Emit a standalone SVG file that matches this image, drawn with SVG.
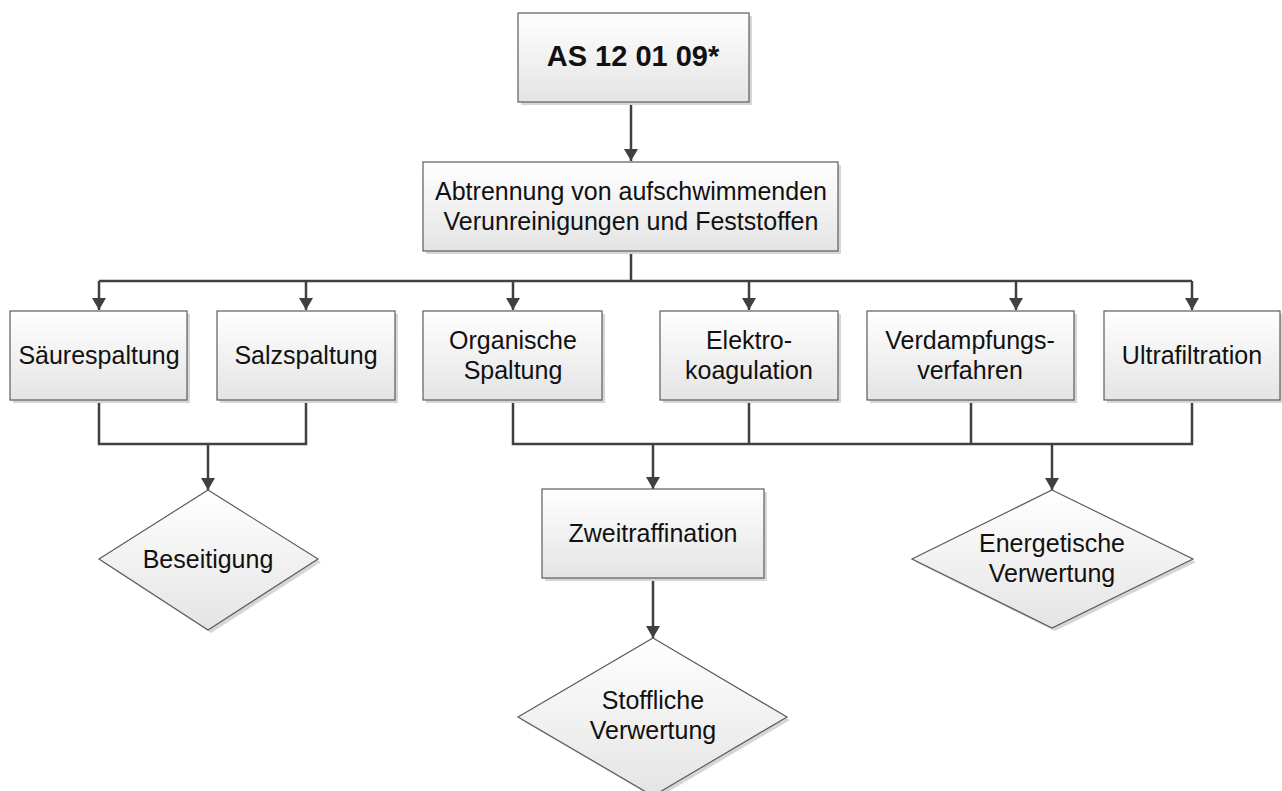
<svg xmlns="http://www.w3.org/2000/svg" width="1282" height="791" viewBox="0 0 1282 791">
  <defs>
    <linearGradient id="boxFill" x1="0" y1="0" x2="0" y2="1">
      <stop offset="0" stop-color="#ffffff"/>
      <stop offset="1" stop-color="#e4e4e4"/>
    </linearGradient>
    <marker id="arrow" viewBox="0 0 12 14" refX="12" refY="7" markerWidth="12" markerHeight="14" markerUnits="userSpaceOnUse" orient="auto">
      <path d="M0,0 L12,7 L0,14 Z" fill="#404040"/>
    </marker>
  </defs>
  <style>
    .box { fill: url(#boxFill); stroke: #5c5c5c; stroke-width: 1.2; }
    .shadow { fill: #d6d6d6; stroke: none; }
    .label { font-family: "Liberation Sans", Arial, sans-serif; font-size: 25px; fill: #111; text-anchor: middle; }
    .title { font-weight: bold; font-size: 29px; }
    .wire { fill: none; stroke: #404040; stroke-width: 2.5; }
    .arr { marker-end: url(#arrow); }
  </style>
  <rect width="1282" height="791" fill="#ffffff"/>

  <!-- connectors -->
  <g id="connectors">
    <path class="wire arr" d="M631,102 V161"/>
    <path class="wire" d="M631,251 V281 M99,281 H1192"/>
    <path class="wire arr" d="M99,281 V310"/>
    <path class="wire arr" d="M306,281 V310"/>
    <path class="wire arr" d="M513,281 V310"/>
    <path class="wire arr" d="M749,281 V310"/>
    <path class="wire arr" d="M1016,281 V310"/>
    <path class="wire arr" d="M1192,281 V310"/>
    <path class="wire" d="M99,400 V444 H306 V400"/>
    <path class="wire arr" d="M208,444 V490"/>
    <path class="wire" d="M513,400 V444 H1192 V400 M749,400 V444 M971,400 V444"/>
    <path class="wire arr" d="M653,444 V489"/>
    <path class="wire arr" d="M1052,444 V490"/>
    <path class="wire arr" d="M653,578 V638"/>
  </g>

  <g id="n-as">
    <rect class="shadow" x="521" y="16" width="231" height="89"/>
    <rect class="box" x="518" y="13" width="231" height="89"/>
    <text class="label title" x="633" y="66">AS 12 01 09*</text>
  </g>

  <g id="n-abtrennung">
    <rect class="shadow" x="426" y="165" width="415" height="89"/>
    <rect class="box" x="423" y="162" width="415" height="89"/>
    <text class="label" x="631" y="200">Abtrennung von aufschwimmenden</text>
    <text class="label" x="631" y="230">Verunreinigungen und Feststoffen</text>
  </g>

  <g id="n-saeure">
    <rect class="shadow" x="13" y="314" width="177" height="89"/>
    <rect class="box" x="10" y="311" width="177" height="89"/>
    <text class="label" x="99" y="364">Säurespaltung</text>
  </g>

  <g id="n-salz">
    <rect class="shadow" x="220" y="314" width="178" height="89"/>
    <rect class="box" x="217" y="311" width="178" height="89"/>
    <text class="label" x="306" y="364">Salzspaltung</text>
  </g>

  <g id="n-organisch">
    <rect class="shadow" x="426" y="314" width="179" height="89"/>
    <rect class="box" x="423" y="311" width="179" height="89"/>
    <text class="label" x="513" y="349">Organische</text>
    <text class="label" x="513" y="379">Spaltung</text>
  </g>

  <g id="n-elektro">
    <rect class="shadow" x="663" y="314" width="178" height="89"/>
    <rect class="box" x="660" y="311" width="178" height="89"/>
    <text class="label" x="749" y="349">Elektro-</text>
    <text class="label" x="749" y="379">koagulation</text>
  </g>

  <g id="n-verdampfung">
    <rect class="shadow" x="870" y="314" width="207" height="89"/>
    <rect class="box" x="867" y="311" width="207" height="89"/>
    <text class="label" x="970" y="349">Verdampfungs-</text>
    <text class="label" x="970" y="379">verfahren</text>
  </g>

  <g id="n-ultra">
    <rect class="shadow" x="1107" y="314" width="176" height="89"/>
    <rect class="box" x="1104" y="311" width="176" height="89"/>
    <text class="label" x="1192" y="364">Ultrafiltration</text>
  </g>

  <g id="n-zweit">
    <rect class="shadow" x="545" y="492" width="222" height="89"/>
    <rect class="box" x="542" y="489" width="222" height="89"/>
    <text class="label" x="653" y="542">Zweitraffination</text>
  </g>

  <g id="n-beseitigung">
    <polygon class="shadow" points="211,493 321,562 211,633 102,562"/>
    <polygon class="box" points="208,490 318,559 208,630 99,559"/>
    <text class="label" x="208" y="568">Beseitigung</text>
  </g>

  <g id="n-energetisch">
    <polygon class="shadow" points="1055,493 1196,562 1055,631 915,562"/>
    <polygon class="box" points="1052,490 1193,559 1052,628 912,559"/>
    <text class="label" x="1052" y="552">Energetische</text>
    <text class="label" x="1052" y="582">Verwertung</text>
  </g>

  <g id="n-stofflich">
    <polygon class="shadow" points="656,641 790,720 656,799 521,720"/>
    <polygon class="box" points="653,638 787,717 653,796 518,717"/>
    <text class="label" x="653" y="709">Stoffliche</text>
    <text class="label" x="653" y="739">Verwertung</text>
  </g>
</svg>
